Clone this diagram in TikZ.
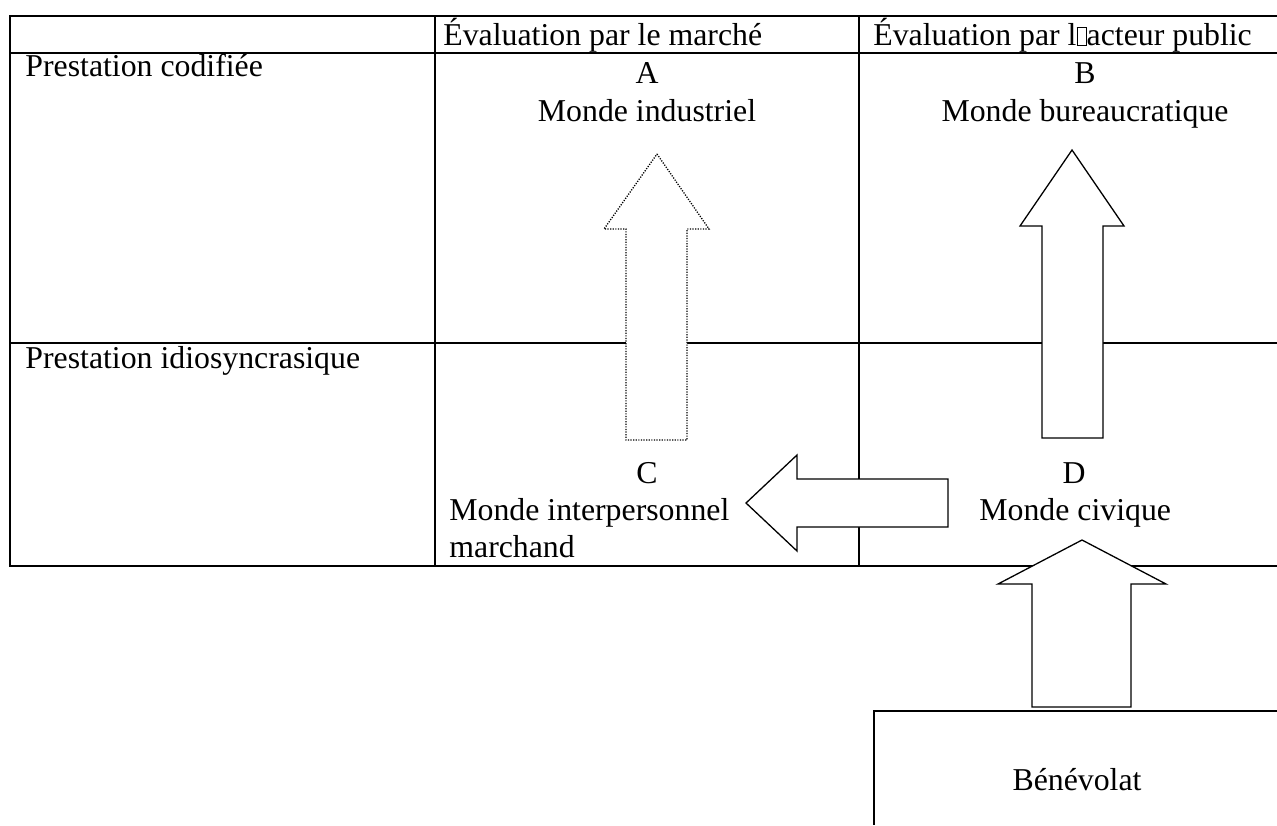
\documentclass[tikz,border=0pt]{standalone}
\usepackage{fontspec}
\setmainfont{Liberation Serif}
\newcommand{\missglyph}{{\setlength{\fboxsep}{0pt}\setlength{\fboxrule}{0.35pt}\fbox{\rule{0pt}{8.6pt}\hspace{4.4pt}}}}

\begin{document}
\begin{tikzpicture}[x=0.5pt,y=-0.5pt,
  every node/.style={inner sep=0pt,font=\fontsize{15.9}{18.9}\selectfont},
  grid/.style={line width=1pt},
  blockarrow/.style={line width=0.65pt,fill=white,line join=miter},
  dotarrow/.style={blockarrow,dash pattern=on 0.6pt off 0.7pt}]
\useasboundingbox (0,0) rectangle (1277,825);
% table
\draw[grid] (1277,16) -- (10,16) -- (10,566) -- (1277,566);
\draw[grid] (10,53) -- (1277,53);
\draw[grid] (10,343) -- (1277,343);
\draw[grid] (435,16) -- (435,566);
\draw[grid] (859,16) -- (859,566);
% arrows
\draw[dotarrow] (657,154) -- (709,229) -- (687,229) -- (687,440) -- (626,440) -- (626,229) -- (604,229) -- cycle;
\draw[blockarrow] (1072,150) -- (1124,226) -- (1103,226) -- (1103,438) -- (1042,438) -- (1042,226) -- (1020,226) -- cycle;
\draw[blockarrow] (746,503) -- (797,455) -- (797,479) -- (948,479) -- (948,527) -- (797,527) -- (797,551) -- cycle;
\draw[blockarrow] (1082,540) -- (1166,584) -- (1131,584) -- (1131,707) -- (1032,707) -- (1032,584) -- (998,584) -- cycle;
% benevolat
\draw[grid] (1277,711) -- (874,711) -- (874,825);
% texts
\node[anchor=base west] (hmarche) at (443,45) {Évaluation par le marché};
\node[anchor=base west] (hpublic) at (873,45) {Évaluation par l\missglyph acteur public};
\node[anchor=base west] (codif) at (25,76) {Prestation codifiée};
\node[anchor=base west] (idio) at (25,368) {Prestation idiosyncrasique};
\node[anchor=base] (la) at (647,83) {A};
\node[anchor=base] (ma) at (647,121) {Monde industriel};
\node[anchor=base] (lb) at (1085,83) {B};
\node[anchor=base] (mb) at (1085,121) {Monde bureaucratique};
\node[anchor=base] (lc) at (647,483) {C};
\node[anchor=base west] (mc) at (449,520) {Monde interpersonnel};
\node[anchor=base west] (mc2) at (449,557) {marchand};
\node[anchor=base] (ld) at (1074,483) {D};
\node[anchor=base west] (md) at (979,520) {Monde civique};
\node[anchor=base] (benev) at (1077,790) {Bénévolat};
\end{tikzpicture}
\end{document}
